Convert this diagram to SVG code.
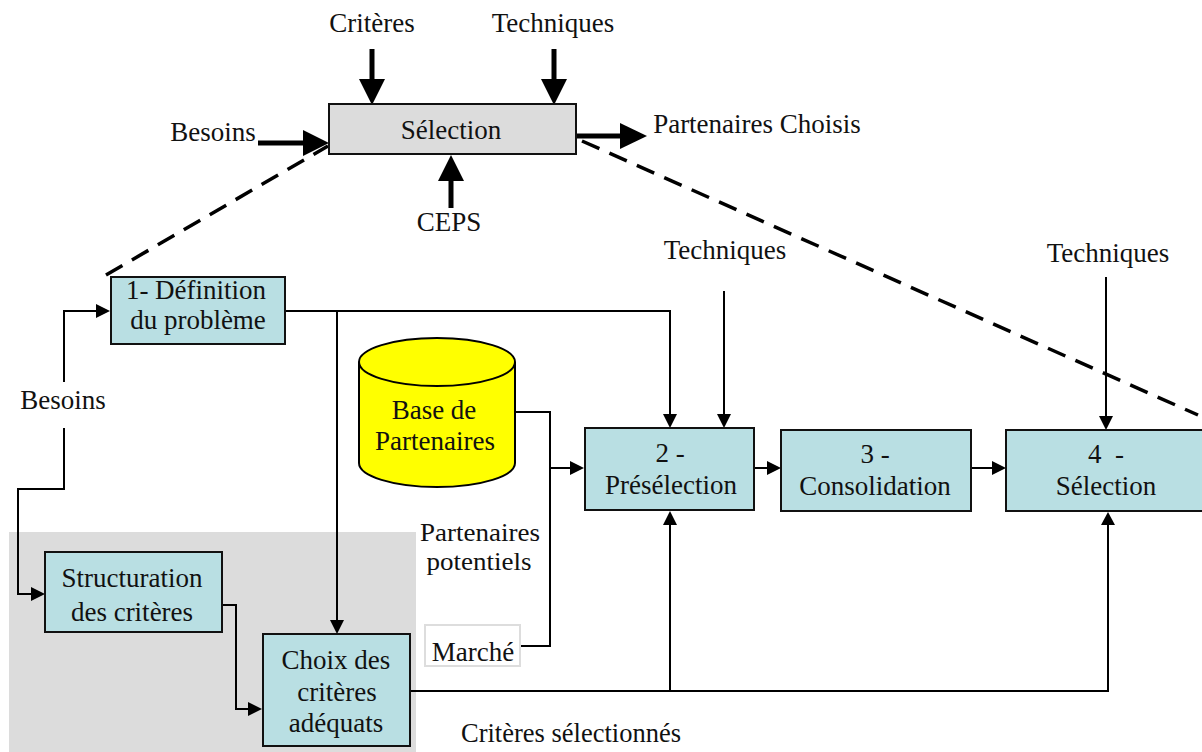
<svg xmlns="http://www.w3.org/2000/svg" width="1202" height="752" viewBox="0 0 1202 752">
<style>
text{font-family:"Liberation Serif","Times New Roman",serif;font-size:27px;fill:#111;text-anchor:middle}
.box{fill:#b9dfe3;stroke:#111;stroke-width:2}
.thin{fill:none;stroke:#000;stroke-width:2}
.thick{fill:none;stroke:#000;stroke-width:5}
.dash{fill:none;stroke:#000;stroke-width:3.5;stroke-dasharray:19 11}
.head{fill:#000;stroke:none}
</style>
<rect id="zone" x="9" y="532" width="407" height="220" fill="#dcdcdc"/>
<g id="connectors">
<path class="dash" d="M106 275L328 146"/>
<path class="dash" d="M582 141L1198 415"/>
<path class="thick" d="M372 49V84M554 49V84M258 143H308M451 208V176M574 136H622"/>
<polygon class="head" points="359,79 385,79 372,105"/>
<polygon class="head" points="541,79 567,79 554,105"/>
<polygon class="head" points="303,130 329,143 303,156"/>
<polygon class="head" points="438,181 464,181 451,155"/>
<polygon class="head" points="620,123 647,136 620,149"/>
<path class="thin" d="M64 382V311H96M64 428V489H18V594H32M222 605H236V709H250M286 311H670V415M337 311V623M724 291V415M516 412H550V646H521M550 468H572M755 468H768M971 468H994M411 691H1108V525M670 691V525M1106 277V417"/>
<polygon class="head" points="96,304 110,311 96,318"/>
<polygon class="head" points="31,587 45,594 31,601"/>
<polygon class="head" points="248,702 262,709 248,716"/>
<polygon class="head" points="330,620 344,620 337,634"/>
<polygon class="head" points="663,414 677,414 670,428"/>
<polygon class="head" points="717,414 731,414 724,428"/>
<polygon class="head" points="570,461 584,468 570,475"/>
<polygon class="head" points="767,461 781,468 767,475"/>
<polygon class="head" points="992,461 1006,468 992,475"/>
<polygon class="head" points="1099,416 1113,416 1106,430"/>
<polygon class="head" points="663,525 677,525 670,511"/>
<polygon class="head" points="1101,525 1115,525 1108,512"/>
</g>
<g id="selection-top"><rect x="329" y="104" width="247" height="50" fill="#dcdcdc" stroke="#111" stroke-width="2"/><text x="451" y="139">Sélection</text></g>
<g id="definition"><rect class="box" x="111" y="277" width="174" height="67"/><text x="196" y="299">1- Définition</text><text x="198" y="329">du problème</text></g>
<g id="base"><path d="M359 362V463C359 476 393 487 437 487C481 487 515 476 515 463V362C515 349 481 338 437 338C393 338 359 349 359 362C359 375 393 386 437 386C481 386 515 375 515 362" fill="#ff0" stroke="#000" stroke-width="2"/><text x="434" y="419">Base de</text><text x="435" y="450">Partenaires</text></g>
<g id="preselection"><rect class="box" x="585" y="428" width="169" height="82"/><text x="670" y="462">2 -</text><text x="671" y="494">Présélection</text></g>
<g id="consolidation"><rect class="box" x="781" y="430" width="190" height="81"/><text x="875" y="463">3 -</text><text x="875" y="495">Consolidation</text></g>
<g id="selection4"><rect class="box" x="1006" y="430" width="197" height="81"/><text x="1106" y="463" xml:space="preserve">4  -</text><text x="1106" y="495">Sélection</text></g>
<g id="structuration"><rect class="box" x="45" y="552" width="177" height="80"/><text x="132" y="587">Structuration</text><text x="132" y="621">des critères</text></g>
<g id="choix"><rect class="box" x="263" y="634" width="147" height="112"/><text x="336" y="669">Choix des</text><text x="337" y="701">critères</text><text x="336" y="732">adéquats</text></g>
<g id="marche"><rect x="425" y="625" width="95" height="41" fill="#fff" stroke="#ddd" stroke-width="2"/><text x="473" y="661">Marché</text></g>
<text x="372" y="32">Critères</text>
<text x="553" y="32">Techniques</text>
<text x="213" y="141">Besoins</text>
<text x="757" y="133">Partenaires Choisis</text>
<text x="449" y="231">CEPS</text>
<text x="725" y="259">Techniques</text>
<text x="1108" y="262">Techniques</text>
<text x="63" y="409">Besoins</text>
<text x="480" y="541" style="font-size:25px" textLength="120" lengthAdjust="spacingAndGlyphs">Partenaires</text>
<text x="479" y="570" style="font-size:25px" textLength="105" lengthAdjust="spacingAndGlyphs">potentiels</text>
<text x="571" y="742" textLength="220" lengthAdjust="spacingAndGlyphs">Critères sélectionnés</text>
</svg>
